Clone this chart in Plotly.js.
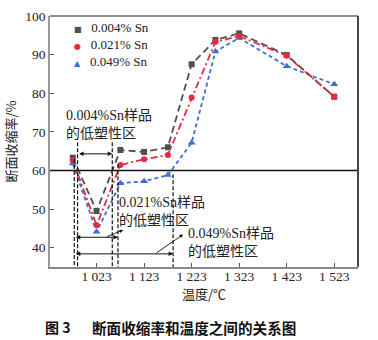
<!DOCTYPE html>
<html><head><meta charset="utf-8">
<script src="https://cdn.plot.ly/plotly-3.0.1.min.js"></script>
<style>html,body{margin:0;padding:0;background:#fff}#chart{width:378px;height:340px}</style>
</head><body><div id="chart"></div>
<script>
const temps = [973,1023,1073,1123,1173,1223,1273,1323,1423,1523];
const sn004 = [63.3,49.5,65.3,64.8,66.0,87.5,93.8,95.5,89.9,79.1];
const sn021 = [62.6,45.8,61.4,62.9,64.0,78.9,93.3,94.8,89.7,79.1];
const sn049 = [61.8,44.1,56.7,57.2,58.8,67.2,90.8,94.3,87.0,82.3];
const seriesNames = ['0.004% Sn','0.021% Sn','0.049% Sn'];
const xTickVals = [1023,1123,1223,1323,1423,1523];
const xTickText = ['1 023','1 123','1 223','1 323','1 423','1 523'];
const yTickVals = [40,50,60,70,80,90,100];
const zoneLineX = [976,983,1056,1068,1184];
const zoneLineTop = [63,67.3,67.3,61.6,59];
const zoneLabels = ['0.004%Sn样品<br>的低塑性区','0.021%Sn样品<br>的低塑性区','0.049%Sn样品<br>的低塑性区'];

const colors = ['#4f4f4f','#e8283f','#3b6fd1'];
const dashes = ['7px,4px','7px,3px,2px,3px','4px,3px'];
const symbols = ['square','circle','triangle-up'];
const data = [sn004, sn021, sn049];
const order = [2,0,1];
const traces = [];
order.forEach(i=>{
  traces.push({x:temps,y:data[i],name:seriesNames[i],mode:'lines',showlegend:false,
    line:{color:colors[i],width:1.8,dash:dashes[i]},hoverinfo:'skip'});
});
order.forEach(i=>{
  traces.push({x:temps,y:data[i],name:seriesNames[i],mode:'markers',showlegend:false,
    marker:{color:colors[i],symbol:symbols[i],size:i===2?7:6}});
});

const serif = 'Liberation Serif, Times New Roman, Noto Sans CJK SC, serif';
const shapes = [
  {type:'line',xref:'paper',x0:0,x1:1,yref:'y',y0:60,y1:60,line:{color:'#111',width:1.5}},
  {type:'line',xref:'paper',x0:0,x1:1,yref:'paper',y0:1,y1:1,line:{color:'#222',width:1.2}},
  {type:'line',xref:'paper',x0:1,x1:1,yref:'paper',y0:0,y1:1,line:{color:'#444',width:2}}
];
zoneLineX.forEach((xv,k)=>{
  shapes.push({type:'line',xref:'x',yref:'y',x0:xv,x1:xv,y0:zoneLineTop[k],y1:35,
    line:{color:'#111',width:1.2,dash:'4px,2px'}});
});

const annotations = [];
// legend (one text block, coloured symbols)
const legSym = ['■','●','▲'];
const legendText = seriesNames.map((n,i)=>
  '<span style="font-family:DejaVu Sans;font-size:8px;color:'+colors[i]+'">'+legSym[i]+'</span>&nbsp;&nbsp;&nbsp;'+n
).join('<br>');
annotations.push({xref:'paper',yref:'paper',x:0.071,y:0.8845,text:legendText,showarrow:false,align:'left',
  font:{family:serif,size:13,color:'#222'},xanchor:'left',yanchor:'middle'});
// zone labels
const labelPos = [[955,72.0],[1065,49.5],[1211,41.4]];
labelPos.forEach((p,k)=>{
  annotations.push({x:p[0],y:p[1],text:zoneLabels[k],showarrow:false,xanchor:'left',yanchor:'middle',
    align:'left',font:{family:serif,size:14,color:'#222'}});
});
// double arrows
const arrowSpans = [[983,1056,64.3],[976,1068,42.7],[976,1184,38.4]];
arrowSpans.forEach(a=>{
  annotations.push({x:a[1],y:a[2],ax:a[0],ay:a[2],axref:'x',ayref:'y',text:'',showarrow:true,
    arrowside:'end+start',arrowhead:2,arrowsize:0.9,arrowwidth:1,arrowcolor:'#111'});
});
// leaders
const leaders = [[1042,42.7,1079,44.6],[1146,38.4,1205,43.4]];
leaders.forEach(l=>{
  annotations.push({x:l[2],y:l[3],ax:l[0],ay:l[1],axref:'x',ayref:'y',text:'',showarrow:true,
    arrowhead:2,arrowsize:0.8,arrowwidth:0.9,arrowcolor:'#111'});
});
// caption
annotations.push({xref:'paper',yref:'paper',x:(43-50)/308,y:-(327-267)/251,text:'<b>图 3</b>',showarrow:false,
  xanchor:'left',yanchor:'middle',font:{family:'Noto Sans CJK SC',size:14,color:'#111'}});
annotations.push({xref:'paper',yref:'paper',x:(90-50)/308,y:-(327-267)/251,text:'<b>断面收缩率和温度之间的关系图</b>',showarrow:false,
  xanchor:'left',yanchor:'middle',font:{family:'Noto Sans CJK SC',size:14.6,color:'#111'}});

const layout = {
  width:378,height:340,
  margin:{l:50,r:20,t:16,b:73,pad:0},
  paper_bgcolor:'#fff',plot_bgcolor:'#fff',
  showlegend:false,
  xaxis:{range:[925,1573],tickvals:xTickVals,ticktext:xTickText,ticks:'inside',ticklen:4,tickcolor:'#555',
    ticklabelstandoff:-4,
    showline:true,linecolor:'#888',linewidth:1.5,showgrid:false,zeroline:false,
    tickfont:{family:serif,size:13.5,color:'#222'},
    title:{text:'温度/℃',font:{family:'Noto Sans CJK SC',size:13,color:'#222'},standoff:3}},
  yaxis:{range:[35,100],tickvals:yTickVals,ticks:'inside',ticklen:4,tickcolor:'#555',
    showline:true,linecolor:'#999',linewidth:1.8,showgrid:false,zeroline:false,
    tickfont:{family:serif,size:13.5,color:'#222'},
    title:{text:'断面收缩率/%',font:{family:'Noto Sans CJK SC',size:13,color:'#222'},standoff:6}},
  shapes:shapes,annotations:annotations
};
Plotly.newPlot('chart',traces,layout,{staticPlot:true,displayModeBar:false});
</script></body></html>
